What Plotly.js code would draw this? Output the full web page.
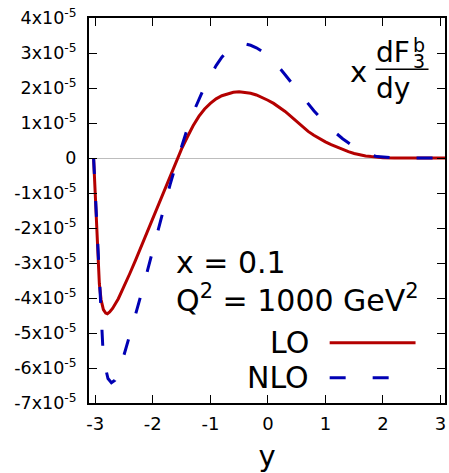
<!DOCTYPE html>
<html>
<head>
<meta charset="utf-8">
<script src="https://cdn.plot.ly/plotly-3.0.1.min.js"></script>
<style>html,body{margin:0;padding:0;background:#fff;}#chart{width:449px;height:473px;}</style>
</head>
<body>
<div id="chart"></div>
<script>
// rapidity y
const loY = [-3.03,-3.0,-2.965,-2.93,-2.9,-2.86,-2.82,-2.79,-2.75,-2.7,-2.6,-2.5,-2.4,-2.3,-2.2,-2.1,-2.0,-1.9,-1.8,-1.7,-1.6,-1.5,-1.4,-1.3,-1.2,-1.1,-1.0,-0.9,-0.8,-0.7,-0.6,-0.5,-0.4,-0.3,-0.2,-0.1,0.0,0.1,0.2,0.3,0.4,0.5,0.6,0.7,0.8,0.9,1.0,1.1,1.2,1.3,1.4,1.5,1.6,1.7,1.8,1.9,2.0,2.2,2.5,2.8,3.08];
const loVal = [0,-1.2,-2.6,-3.6,-4.05,-4.33,-4.43,-4.45,-4.4,-4.3,-4.02,-3.68,-3.3,-2.92,-2.52,-2.12,-1.71,-1.3,-0.9,-0.5,-0.12,0.26,0.6,0.92,1.19,1.4,1.56,1.69,1.78,1.84,1.88,1.89,1.88,1.85,1.8,1.73,1.65,1.56,1.45,1.33,1.19,1.04,0.89,0.76,0.65,0.55,0.46,0.38,0.31,0.24,0.18,0.13,0.09,0.06,0.04,0.02,0.01,0.0,0.0,0.0,0.0];
const nloY = [-3.03,-3.0,-2.96,-2.93,-2.9,-2.87,-2.83,-2.78,-2.72,-2.66,-2.6,-2.5,-2.4,-2.3,-2.2,-2.1,-2.0,-1.9,-1.8,-1.7,-1.6,-1.5,-1.4,-1.3,-1.2,-1.1,-1.0,-0.9,-0.8,-0.7,-0.6,-0.5,-0.4,-0.3,-0.2,-0.1,0.0,0.1,0.2,0.3,0.4,0.5,0.6,0.7,0.8,0.9,1.0,1.1,1.2,1.3,1.4,1.5,1.6,1.7,1.8,1.9,2.0,2.2,2.5,2.8,3.08];
const nloVal = [0,-1.1,-2.5,-3.6,-4.5,-5.4,-5.95,-6.3,-6.42,-6.35,-6.1,-5.62,-5.05,-4.48,-3.88,-3.26,-2.62,-1.96,-1.34,-0.76,-0.2,0.34,0.84,1.29,1.69,2.04,2.35,2.64,2.88,3.07,3.19,3.25,3.26,3.22,3.15,3.05,2.92,2.76,2.58,2.38,2.17,1.96,1.75,1.54,1.35,1.17,1.0,0.84,0.69,0.55,0.43,0.32,0.22,0.14,0.08,0.04,0.02,0.0,0.0,0.0,0.0];
const scale = 1e-5;
const yTickVals = [4,3,2,1,0,-1,-2,-3,-4,-5,-6,-7];
const yTickText = ["4x10<sup>-5</sup>","3x10<sup>-5</sup>","2x10<sup>-5</sup>","1x10<sup>-5</sup>","0","-1x10<sup>-5</sup>","-2x10<sup>-5</sup>","-3x10<sup>-5</sup>","-4x10<sup>-5</sup>","-5x10<sup>-5</sup>","-6x10<sup>-5</sup>","-7x10<sup>-5</sup>"];
const xTickVals = [-3,-2,-1,0,1,2,3];
const seriesNames = ["LO","NLO"];

const FONT = "DejaVu Sans, sans-serif";
const RED = "#b40000", BLUE = "#0000b4";
const DASH = "16px,27px";

const traces = [
  {x: loY, y: loVal.map(v=>v*scale), mode:"lines", name:seriesNames[0], line:{color:RED, width:3}, showlegend:false},
  {x: nloY, y: nloVal.map(v=>v*scale), mode:"lines", name:seriesNames[1], line:{color:BLUE, width:3, dash:DASH}, showlegend:false}
];

const L=89, R=445.5, T=17.7, B=403.3;
const px = p => (p-L)/(R-L);
const py = p => (B-p)/(B-T);

const layout = {
  width:449, height:473,
  margin:{l:89, r:3.5, t:17.7, b:69.7},
  paper_bgcolor:"#fff", plot_bgcolor:"#fff",
  font:{family:FONT, color:"#000", size:17},
  xaxis:{range:[-3.11,3.08], tickvals:xTickVals, ticktext:xTickVals.map(String), ticks:"inside", ticklen:8, tickwidth:1, tickcolor:"#000",
    showline:true, linecolor:"#000", linewidth:2, mirror:"ticks", showgrid:false, zeroline:false, ticklabelstandoff:3,
    tickfont:{family:FONT, size:18}, title:{text:"y", font:{family:FONT, size:29}, standoff:23}},
  yaxis:{range:[-7e-5,4e-5], tickvals:yTickVals.map(v=>v*scale), ticktext:yTickText, ticks:"inside", ticklen:8, tickwidth:1, tickcolor:"#000",
    showline:true, linecolor:"#000", linewidth:2, mirror:"ticks", showgrid:false, zeroline:true, zerolinecolor:"#bdbdbd", zerolinewidth:1,
    tickfont:{family:FONT, size:17.5}, ticklabelstandoff:7},
  showlegend:false,
  annotations:[
    {xref:"paper", yref:"paper", x:px(174), y:py(263), xanchor:"left", yanchor:"middle", text:"x = 0.1", showarrow:false, font:{family:FONT, size:30}},
    {xref:"paper", yref:"paper", x:px(174), y:py(299), xanchor:"left", yanchor:"middle", text:"Q<sup>2</sup> = 1000 GeV<sup>2</sup>", showarrow:false, font:{family:FONT, size:30}},
    {xref:"paper", yref:"paper", x:px(311), y:py(343), xanchor:"right", yanchor:"middle", text:"LO", showarrow:false, font:{family:FONT, size:30}},
    {xref:"paper", yref:"paper", x:px(311), y:py(378), xanchor:"right", yanchor:"middle", text:"NLO", showarrow:false, font:{family:FONT, size:30}},
    {xref:"paper", yref:"paper", x:px(359), y:py(72), xanchor:"center", yanchor:"middle", text:"x", showarrow:false, font:{family:FONT, size:29}},
    {xref:"paper", yref:"paper", x:px(374), y:py(52), xanchor:"left", yanchor:"middle", text:"dF", showarrow:false, font:{family:FONT, size:28}},
    {xref:"paper", yref:"paper", x:px(411), y:py(45), xanchor:"left", yanchor:"middle", text:"b", showarrow:false, font:{family:FONT, size:19}},
    {xref:"paper", yref:"paper", x:px(411), y:py(61), xanchor:"left", yanchor:"middle", text:"3", showarrow:false, font:{family:FONT, size:19}},
    {xref:"paper", yref:"paper", x:px(374), y:py(88), xanchor:"left", yanchor:"middle", text:"dy", showarrow:false, font:{family:FONT, size:28}}
  ],
  shapes:[
    {type:"line", xref:"paper", yref:"paper", x0:px(376), x1:px(429), y0:py(69), y1:py(69), line:{color:"#000", width:1.5}},
    {type:"line", xref:"paper", yref:"paper", x0:px(330), x1:px(416), y0:py(343), y1:py(343), line:{color:RED, width:3}},
    {type:"line", xref:"paper", yref:"paper", x0:px(330), x1:px(416), y0:py(378), y1:py(378), line:{color:BLUE, width:3, dash:DASH}}
  ]
};

Plotly.newPlot("chart", traces, layout, {staticPlot:true, displayModeBar:false});
</script>
</body>
</html>
